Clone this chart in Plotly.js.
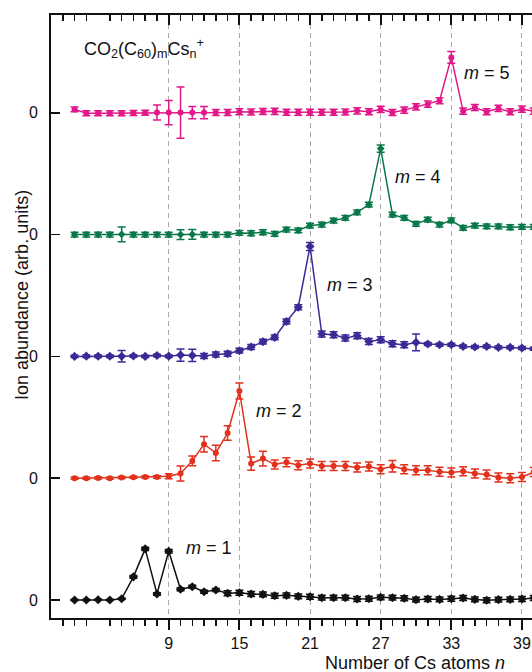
<!DOCTYPE html>
<html>
<head>
<meta charset="utf-8">
<script src="https://cdn.plot.ly/plotly-3.0.1.min.js"></script>
<style>
html,body{margin:0;padding:0;overflow:hidden;background:#fff;}
#plot{width:800px;height:672px;}
</style>
</head>
<body>
<div id="plot"></div>
<script>
// Cluster size n (number of Cs atoms)
const nAtoms = [1,2,3,4,5,6,7,8,9,10,11,12,13,14,15,16,17,18,19,20,21,22,23,24,25,26,27,28,29,30,31,32,33,34,35,36,37,38,39,40];

// Ion abundance (arb. units) for each m
const abundM1 = [0,0,0.002,0,0.01,0.19,0.42,0.05,0.40,0.088,0.109,0.068,0.082,0.055,0.06,0.049,0.046,0.035,0.038,0.03,0.027,0.019,0.019,0.019,0.008,0.01,0.022,0.019,0.014,0.003,0.008,0.005,0.01,0.016,0.005,-0.002,0.003,0.005,0.008,0.016];
const errM1   = [0.005,0.005,0.005,0.005,0.005,0.012,0.014,0.01,0.014,0.012,0.012,0.012,0.012,0.02,0.02,0.02,0.02,0.02,0.02,0.02,0.02,0.02,0.02,0.02,0.02,0.02,0.02,0.02,0.02,0.02,0.02,0.02,0.02,0.02,0.02,0.02,0.02,0.02,0.02,0.02];

const abundM2 = [0,0,0.002,0,0.005,0.008,0.01,0.01,0.016,0.038,0.142,0.279,0.207,0.371,0.716,0.12,0.161,0.112,0.13,0.107,0.12,0.101,0.101,0.1,0.087,0.096,0.074,0.098,0.074,0.066,0.066,0.052,0.046,0.057,0.038,0.03,0.005,0,0.01,0.05];
const errM2   = [0.008,0.008,0.008,0.008,0.008,0.008,0.008,0.01,0.02,0.062,0.04,0.063,0.063,0.06,0.066,0.055,0.06,0.037,0.037,0.037,0.037,0.037,0.037,0.037,0.037,0.037,0.037,0.047,0.037,0.037,0.037,0.037,0.037,0.037,0.037,0.037,0.037,0.037,0.037,0.037];

const abundM3 = [0,0.002,0.001,0.001,0.001,0.003,0,0.008,0.002,0.011,0.008,0.003,0.016,0.022,0.047,0.077,0.121,0.156,0.287,0.404,0.903,0.184,0.178,0.151,0.17,0.123,0.137,0.104,0.096,0.115,0.102,0.096,0.096,0.082,0.077,0.082,0.074,0.074,0.069,0.063];
const errM3   = [0.01,0.01,0.01,0.01,0.047,0.01,0.01,0.01,0.01,0.05,0.05,0.02,0.02,0.02,0.02,0.02,0.02,0.02,0.02,0.02,0.033,0.025,0.025,0.025,0.025,0.025,0.025,0.025,0.025,0.068,0.012,0.012,0.012,0.012,0.012,0.012,0.012,0.012,0.012,0.012];

const abundM4 = [0,0,0,0,0.002,0,0,0,0,0,0.002,0,0,0,0.014,0.011,0.019,0.006,0.041,0.035,0.074,0.082,0.115,0.137,0.183,0.246,0.706,0.164,0.137,0.088,0.123,0.082,0.117,0.055,0.074,0.068,0.068,0.06,0.063,0.063];
const errM4   = [0.02,0.02,0.02,0.02,0.06,0.02,0.02,0.02,0.02,0.04,0.04,0.02,0.02,0.02,0.02,0.02,0.02,0.02,0.02,0.02,0.02,0.02,0.02,0.02,0.02,0.02,0.03,0.02,0.02,0.02,0.02,0.02,0.02,0.02,0.02,0.02,0.02,0.02,0.02,0.02];

const abundM5 = [0.028,-0.004,-0.004,-0.004,-0.004,-0.002,0,0.002,0.002,0.002,0.002,0.002,0.002,0.002,0.008,0.006,0.011,0.012,0.005,0.005,0.005,0.005,0.005,0.006,0.016,0.008,0.028,0.003,0.022,0.049,0.071,0.099,0.455,0.014,0.044,0.008,0.036,0.008,0.03,0.014];
const errM5   = [0.02,0.02,0.02,0.02,0.02,0.02,0.02,0.062,0.1,0.21,0.05,0.05,0.025,0.025,0.025,0.025,0.025,0.025,0.025,0.025,0.025,0.025,0.025,0.025,0.025,0.025,0.025,0.025,0.025,0.025,0.025,0.025,0.048,0.025,0.025,0.025,0.025,0.025,0.025,0.025];

const seriesNames = ['m = 1','m = 2','m = 3','m = 4','m = 5'];
const seriesLabels = ['<i>m</i> = 1','<i>m</i> = 2','<i>m</i> = 3','<i>m</i> = 4','<i>m</i> = 5'];
const labelN = [12.4, 18.4, 24.4, 30.2, 36.0];
const labelV = [0.427, 0.552, 0.586, 0.473, 0.327];

const xTickVals = [9,15,21,27,33,39,45,51,57];
const xTickText = ['9','15','21','27','33','39','45','51','57'];
const xMinorVals = [0,1,2,4,5,6,7,8,10,11,12,13,14,16,17,18,19,20,22,23,24,25,26,28,29,30,31,32,34,35,36,37,38,40,41,42,43,44,46,47,48,49,50,52,53,54,55,56,58,59,60];
const yTickText = ['0','0','0','0','0'];

const allAbund = [abundM1, abundM2, abundM3, abundM4, abundM5];
const allErr = [errM1, errM2, errM3, errM4, errM5];
const colors = ['#111111','#e2311d','#3b2a96','#08784a','#e2178a'];
const symbols = ['diamond','circle','diamond','diamond','circle'];
const sizes = [7,6,7,6,6];

const FONT = 'Liberation Sans, Arial, Helvetica, sans-serif';

const traces = allAbund.map((vals, k) => ({
  type: 'scatter',
  mode: 'lines+markers',
  name: seriesNames[k],
  x: nAtoms,
  y: vals.map(v => v + k),
  error_y: {type: 'data', array: allErr[k], visible: true, color: colors[k], thickness: 1.5, width: 4},
  line: {color: colors[k], width: 1.5},
  marker: {color: colors[k], symbol: symbols[k], size: sizes[k]},
  showlegend: false,
  cliponaxis: true
}));
// empty trace so the mirrored top axis is drawn
traces.push({type: 'scatter', x: [], y: [], xaxis: 'x2', yaxis: 'y', showlegend: false, hoverinfo: 'skip'});

const annotations = seriesLabels.map((t, k) => ({
  x: labelN[k], y: labelV[k] + k, xref: 'x', yref: 'y',
  text: t, showarrow: false, xanchor: 'center', yanchor: 'middle',
  font: {family: FONT, size: 18, color: '#111'}
}));
annotations.push({
  x: 1.67, y: 4.525, xref: 'x', yref: 'y', xanchor: 'left', yanchor: 'middle',
  text: 'CO<sub>2</sub>(C<sub>60</sub>)<sub>m</sub>Cs<sub>n</sub><sup>+</sup>',
  showarrow: false, font: {family: FONT, size: 18, color: '#111'}
});
annotations.push({
  x: -0.0397, y: 0.5357, xref: 'paper', yref: 'paper', xanchor: 'center', yanchor: 'middle',
  text: 'Ion abundance (arb. units)', textangle: -90, showarrow: false,
  font: {family: FONT, size: 18, color: '#111'}
});
annotations.push({
  x: 0.4986, y: -0.0746, xref: 'paper', yref: 'paper', xanchor: 'center', yanchor: 'middle',
  text: 'Number of Cs atoms <i>n</i>', showarrow: false,
  font: {family: FONT, size: 18, color: '#111'}
});

const layout = {
  width: 800, height: 672,
  margin: {l: 51, r: 19, t: 15, b: 54},
  paper_bgcolor: '#fff', plot_bgcolor: '#fff',
  font: {family: FONT, size: 16, color: '#111'},
  showlegend: false,
  xaxis: {
    range: [-1, 61], showline: true, linecolor: '#111', linewidth: 2,
    tickmode: 'array', tickvals: xTickVals, ticktext: xTickText,
    ticks: 'outside', ticklen: 10, tickwidth: 2, tickcolor: '#111',
    showgrid: true, gridcolor: '#a8a8a8', gridwidth: 1, griddash: '5px,4px',
    zeroline: false,
    minor: {tickmode: 'array', tickvals: xMinorVals, ticks: 'outside', ticklen: 6, tickwidth: 1.5, tickcolor: '#111', showgrid: false},
    tickfont: {family: FONT, size: 16, color: '#111'}
  },
  xaxis2: {
    overlaying: 'x', side: 'top', anchor: 'y', matches: 'x', range: [-1, 61],
    showline: true, linecolor: '#111', linewidth: 2,
    tickmode: 'array', tickvals: xTickVals, showticklabels: false,
    ticks: 'inside', ticklen: 10, tickwidth: 2, tickcolor: '#111',
    showgrid: false, zeroline: false,
    minor: {tickmode: 'array', tickvals: xMinorVals, ticks: 'inside', ticklen: 6, tickwidth: 1.5, tickcolor: '#111', showgrid: false}
  },
  yaxis: {
    range: [-0.1478, 4.803], showline: true, linecolor: '#111', linewidth: 2,
    tickmode: 'array', tickvals: [0,1,2,3,4], ticktext: yTickText,
    ticks: 'inside', ticklen: 9, tickwidth: 1.5, tickcolor: '#111',
    showgrid: false, zeroline: false, ticklabelstandoff: 8,
    tickfont: {family: FONT, size: 16, color: '#111'}
  },
  annotations: annotations
};

Plotly.newPlot('plot', traces, layout, {staticPlot: true, displayModeBar: false});
</script>
</body>
</html>
